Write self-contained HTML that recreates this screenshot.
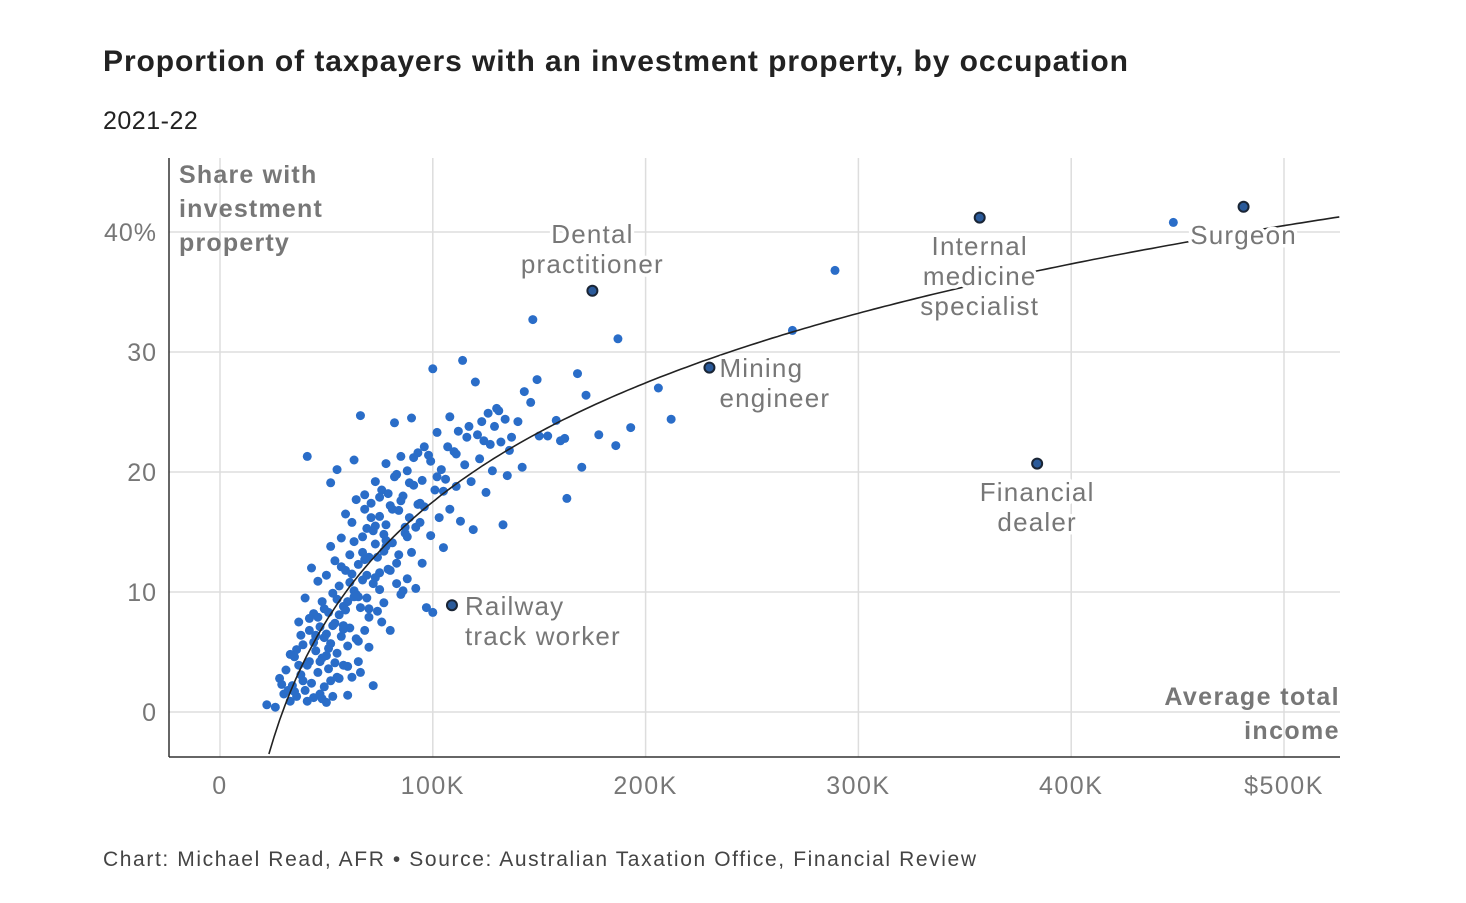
<!DOCTYPE html>
<html><head><meta charset="utf-8">
<style>
body{margin:0;background:#fff;width:1466px;height:898px;overflow:hidden;font-family:"Liberation Sans",sans-serif}
svg text{font-family:"Liberation Sans",sans-serif}
.lbl{font-size:26px;letter-spacing:1.2px;fill:#777;stroke:#fff;stroke-width:7px;paint-order:stroke;stroke-linejoin:round}
</style></head><body>
<svg width="1466" height="898">
<text x="103" y="71" font-size="30" font-weight="bold" fill="#222" textLength="1025" lengthAdjust="spacing">Proportion of taxpayers with an investment property, by occupation</text>
<text x="103" y="129" font-size="25" letter-spacing="0.5" fill="#222">2021-22</text>
<g id="grid"></g>
<g id="axes"></g>
<g id="dots"></g>
<path id="trend" fill="none" stroke="#222" stroke-width="1.6"/>
<g id="hl"></g>
<g id="labels"></g>
<text x="179" y="183" font-size="25" font-weight="bold" fill="#777" letter-spacing="1.2"><tspan x="179">Share with</tspan><tspan x="179" dy="34">investment</tspan><tspan x="179" dy="34">property</tspan></text>
<text x="1340" y="705" font-size="25" font-weight="bold" fill="#777" letter-spacing="1.4" text-anchor="end"><tspan x="1340">Average total</tspan><tspan x="1340" dy="34">income</tspan></text>
<text x="103" y="866" font-size="21" fill="#444" textLength="873" lengthAdjust="spacing">Chart: Michael Read, AFR • Source: Australian Taxation Office, Financial Review</text>
</svg>
<script>
const xTicks=[0,100,200,300,400,500];
const xTickLabels=["0","100K","200K","300K","400K","$500K"];
const yTicks=[0,10,20,30,40];
const yTickLabels=["0","10","20","30","40%"];
const incomes=[22,26,28,30,31,33,34,35,36,37,38,39,40,40,41,42,42,43,43,44,44,45,46,46,47,47,48,48,49,49,50,50,51,51,52,52,53,53,54,54,55,55,56,56,57,57,58,58,59,59,60,60,61,61,62,62,63,63,64,64,65,65,66,66,67,67,68,68,69,69,70,70,71,72,72,73,73,74,75,75,76,77,77,78,78,79,80,80,81,82,82,83,84,85,85,86,87,88,88,89,90,90,91,92,93,94,95,95,96,97,98,99,100,100,101,102,103,104,105,106,107,108,110,111,112,113,114,115,116,118,119,120,121,122,124,125,126,128,129,130,132,133,134,135,137,140,142,143,146,149,150,154,158,160,162,163,168,170,172,178,186,187,193,206,212,147,269,289,448,41,52,32,36,38,41,44,46,48,50,52,54,56,58,60,62,64,66,68,70,72,74,76,78,84,86,92,
29,33,35,37,39,42,45,47,49,51,53,55,57,59,61,63,65,67,69,71,73,75,77,79,81,83,85,87,89,91,94,96,99,102,105,108,111,117,123,127,131,136,45,50,55,60,65,70,75,80,58,63,68,73,78,83,88,93];
const shares=[0.6,0.4,2.8,1.5,3.5,0.9,2.2,4.6,1.3,7.5,3.1,5.6,1.8,9.5,0.9,4.2,6.8,12,2.4,8.2,1.2,5.1,3.3,10.9,7.1,1.5,9.2,4.5,2.1,6.2,11.4,0.8,8.3,3.6,13.8,5.7,1.3,9.9,7.4,12.6,4.9,20.2,2.8,10.5,6.3,14.5,8.8,3.9,11.8,16.5,5.5,9.2,13.1,7.0,2.9,15.8,10.1,21,6.1,17.7,12.3,4.2,8.7,24.7,14.6,11,18.1,6.8,9.5,15.3,12.9,7.9,17.4,2.2,10.7,14,19.2,8.4,16.3,11.6,18.5,13.4,9.1,20.7,15.6,11.9,17.2,6.8,14.1,24.1,19.6,12.4,16.8,21.3,9.8,18,14.9,11.1,20.1,16.2,24.5,13.3,18.9,10.3,21.6,15.8,12.4,19.3,17.1,8.7,21.4,14.7,8.3,28.6,18.5,23.3,16.2,20.2,13.7,19.4,22.1,16.9,21.7,18.8,23.4,15.9,29.3,20.6,22.9,19.2,15.2,27.5,23.1,21.1,22.6,18.3,24.9,20.1,23.8,25.3,22.5,15.6,24.4,19.7,22.9,24.2,20.4,26.7,25.8,27.7,23,23,24.3,22.6,22.8,17.8,28.2,20.4,26.4,23.1,22.2,31.1,23.7,27,24.4,32.7,31.8,36.8,40.8,21.3,19.1,1.8,5.2,6.4,3.9,5.8,7.9,1.1,6.5,2.6,4.1,8.1,6.9,1.4,11.5,9.8,3.3,12.7,5.4,15.1,12.9,7.5,13.8,13.1,10.1,15.4,
2.3,4.8,1.7,3.9,2.6,7.8,6.4,4.2,8.6,5.3,7.2,9.4,12.1,8.5,10.8,14.2,9.6,13.3,11.4,16.2,15.5,17.9,14.8,18.2,16.9,19.8,17.6,15.4,19.1,21.2,17.4,22.1,20.9,19.6,18.4,24.6,21.5,23.8,24.2,22.3,25.1,21.8,6.3,4.7,2.9,3.8,5.9,8.6,10.2,11.8,7.2,9.6,16.9,11.2,14.3,10.7,14.6,17.3];
const hlNames=["Dental practitioner","Surgeon","Internal medicine specialist","Mining engineer","Financial dealer","Railway track worker"];
const hlIncomes=[175,481,357,230,384,109];
const hlShares=[35.1,42.1,41.2,28.7,20.7,8.9];
const trendA=-3.5, trendB=14.3, trendX0=23, trendX1=526;

const NS="http://www.w3.org/2000/svg";
const X=v=>220+v*2.128, Y=v=>712-v*12;
function mk(tag,attrs,parent){const e=document.createElementNS(NS,tag);for(const k in attrs)e.setAttribute(k,attrs[k]);parent.appendChild(e);return e;}
const grid=document.getElementById('grid'),axes=document.getElementById('axes');
xTicks.forEach((t,i)=>{
 const l=mk('line',{x1:X(t),x2:X(t),y1:158,y2:757,stroke:'#ddd','stroke-width':1.5},grid);
 
 
 const tx=mk('text',{x:X(t),y:794,'font-size':25,'letter-spacing':1.5,fill:'#777','text-anchor':'middle'},axes);
 tx.textContent=xTickLabels[i];
 
 
});
yTicks.forEach((t,i)=>{
 const l=mk('line',{x1:169,x2:1340,y1:Y(t),y2:Y(t),stroke:'#ddd','stroke-width':1.5},grid);
 
 
 const tx=mk('text',{x:157,y:Y(t)+9,'font-size':25,'letter-spacing':1,fill:'#777','text-anchor':'end'},axes);
 tx.textContent=yTickLabels[i];
 
 
});
mk('line',{x1:169,x2:169,y1:158,y2:757,stroke:'#333','stroke-width':1.5},axes);
mk('line',{x1:169,x2:1340,y1:757,y2:757,stroke:'#333','stroke-width':1.5},axes);
const dots=document.getElementById('dots');
incomes.forEach((v,i)=>{
 const c=mk('circle',{cx:X(v),cy:Y(shares[i]),r:4.5,fill:'#2a6dc8'},dots);
 
 
});
let d='';
for(let k=0;k<=200;k++){const x=trendX0+(trendX1-trendX0)*k/200;const y=trendA+trendB*Math.log(x/trendX0);d+=(k?'L':'M')+X(x).toFixed(1)+','+Y(y).toFixed(1);}
document.getElementById('trend').setAttribute('d',d);
const hl=document.getElementById('hl');
hlIncomes.forEach((v,i)=>{
 const c=mk('circle',{cx:X(v),cy:Y(hlShares[i]),r:5,fill:'#2a5a9a',stroke:'#1a2535','stroke-width':2},hl);
 
 
});
const lg=document.getElementById('labels');
function label(lines,x,y,anchor){const t=mk('text',{x:x,y:y,'text-anchor':anchor,class:'lbl'},lg);
 lines.forEach((s,j)=>{const ts=mk('tspan',{x:x,dy:j?30:0},t);ts.textContent=s;});
 
 }
label(["Dental","practitioner"],X(hlIncomes[0]),243,'middle');
label(["Surgeon"],X(hlIncomes[1]),244,'middle');
label(["Internal","medicine","specialist"],X(hlIncomes[2]),255,'middle');
label(["Mining","engineer"],X(hlIncomes[3])+10,377,'start');
label(["Financial","dealer"],X(hlIncomes[4]),501,'middle');
label(["Railway","track worker"],X(hlIncomes[5])+13,615,'start');
</script>
</body></html>
